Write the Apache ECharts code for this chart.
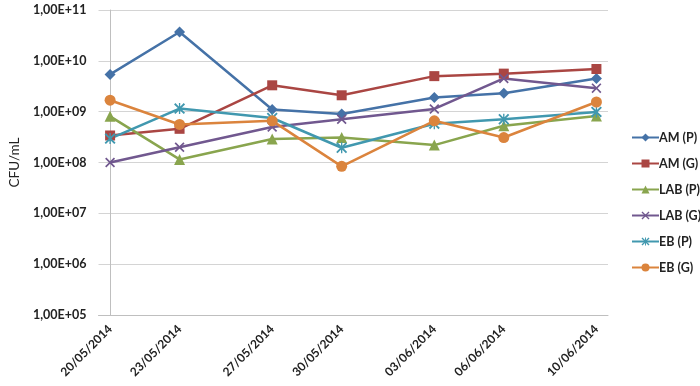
<!DOCTYPE html>
<html>
<head>
<meta charset="utf-8">
<script src="https://cdn.jsdelivr.net/npm/echarts@6/dist/echarts.min.js"></script>
<style>
  html, body { margin: 0; padding: 0; background: #fff; }
  #echart-line { width: 700px; height: 386px; }
</style>
</head>
<body>
<div id="echart-line"></div>
<script>
// sampling dates (dd/mm/yyyy)
var dates = ['20/05/2014', '23/05/2014', '27/05/2014', '30/05/2014', '03/06/2014', '06/06/2014', '10/06/2014'];

// CFU/mL per series
var amP  = [5.4e9, 3.7e10, 1.1e9, 9.0e8, 1.9e9, 2.3e9, 4.5e9];
var amG  = [3.4e8, 4.6e8, 3.3e9, 2.1e9, 5.0e9, 5.6e9, 6.9e9];
var labP = [8.1e8, 1.15e8, 2.9e8, 3.1e8, 2.2e8, 5.3e8, 8.2e8];
var labG = [1.0e8, 2.0e8, 5.0e8, 7.1e8, 1.13e9, 4.5e9, 2.9e9];
var ebP  = [2.95e8, 1.15e9, 7.5e8, 1.95e8, 5.8e8, 7.1e8, 9.9e8];
var ebG  = [1.68e9, 5.6e8, 6.6e8, 8.4e7, 6.6e8, 3.1e8, 1.55e9];

var names = ['AM (P)', 'AM (G)', 'LAB (P)', 'LAB (G)', 'EB (P)', 'EB (G)'];
var colors = ['#4572A7', '#AA4643', '#89A54E', '#71588F', '#4198AF', '#DB843D'];

var DAY = 24 * 3600 * 1000;
function toTime(s) {
  var p = s.split('/');
  return Date.UTC(+p[2], +p[1] - 1, +p[0]);
}
// day offset of each date from the first one (date axis like Excel)
var t0 = toTime(dates[0]);
var days = dates.map(function (s) { return Math.round((toTime(s) - t0) / DAY); });

// x and asterisk markers
var xPath = 'path://M0,0.12 L0.12,0 L0.5,0.38 L0.88,0 L1,0.12 L0.62,0.5 L1,0.88 L0.88,1 L0.5,0.62 L0.12,1 L0,0.88 L0.38,0.5 Z';
var starPath = 'path://M0,0.12 L0.12,0 L0.5,0.38 L0.88,0 L1,0.12 L0.62,0.5 L1,0.88 L0.88,1 L0.5,0.62 L0.12,1 L0,0.88 L0.38,0.5 Z M0.44,0 L0.56,0 L0.56,1 L0.44,1 Z';
var symbols = ['diamond', 'rect', 'triangle', xPath, starPath, 'circle'];
var sizes = [11, 10, 11, 10, 11, 11];

var values = [amP, amG, labP, labG, ebP, ebG];
var series = values.map(function (vals, i) {
  return {
    name: names[i],
    type: 'line',
    data: vals.map(function (v, j) { return [days[j], v]; }),
    symbol: symbols[i],
    symbolSize: sizes[i],
    lineStyle: { width: 2.5, color: colors[i] },
    itemStyle: { color: colors[i] }
  };
});

var getchart = echarts.init(document.getElementById('echart-line'));
var option = {
  animation: false,
  color: colors,
  textStyle: { fontFamily: 'Lato' },
  legend: {
    orient: 'vertical',
    left: 626,
    top: 126,
    itemGap: 13,
    itemWidth: 27,
    itemHeight: 10,
    textStyle: { fontFamily: 'Lato', fontWeight: 'bold', fontSize: 12.5, color: '#222', padding: [0, 0, 0, -5] },
    data: names
  },
  grid: {
    left: 91,
    right: 92,
    top: 10,
    bottom: 71
  },
  xAxis: {
    type: 'value',
    min: days[0] - 0.5,
    max: days[days.length - 1] + 0.5,
    axisLine: { show: true, onZero: false, lineStyle: { color: '#BFBFBF' } },
    axisTick: { show: false },
    splitLine: { show: false },
    axisLabel: {
      customValues: days,
      rotate: 45,
      margin: 12,
      color: '#222',
      fontWeight: 'bold',
      fontSize: 12,
      fontFamily: 'Lato',
      formatter: function (v) {
        var k = days.indexOf(Math.round(v));
        return k >= 0 ? dates[k] : '';
      }
    }
  },
  yAxis: {
    type: 'log',
    logBase: 10,
    min: 1e5,
    max: 1e11,
    name: 'CFU/mL',
    nameLocation: 'middle',
    nameGap: 74,
    nameTextStyle: { fontFamily: 'Lato', fontSize: 13.5, color: '#222' },
    axisLine: { show: true, lineStyle: { color: '#BFBFBF' } },
    axisTick: { show: false },
    splitLine: { lineStyle: { color: '#D4D4D4', width: 1 } },
    axisLabel: {
      margin: 12,
      color: '#222',
      fontWeight: 'bold',
      fontSize: 12.5,
      fontFamily: 'Lato',
      formatter: function (v) {
        var e = Math.round(Math.log10(v));
        return '1,00E+' + (e < 10 ? '0' + e : e);
      }
    }
  },
  series: series
};

getchart.setOption(option);
window.addEventListener('resize', function () {
  getchart.resize();
});
</script>
</body>
</html>
